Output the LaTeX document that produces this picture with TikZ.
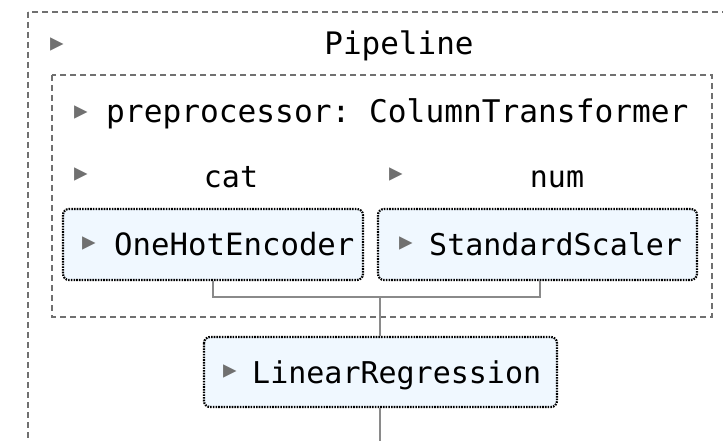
\documentclass[tikz,border=0pt]{standalone}
\usepackage{fontspec}
\setmonofont{DejaVu Sans Mono}
\newfontfamily\symfont{DejaVu Sans}
\definecolor{boxfill}{HTML}{F0F8FF}
\definecolor{dashgray}{HTML}{707070}
\definecolor{linegray}{HTML}{8A8A8A}
\definecolor{trigray}{HTML}{707070}
\begin{document}
\begin{tikzpicture}[x=1pt,y=-1pt,
  lbl/.style={font=\ttfamily\fontsize{30}{30}\selectfont, inner sep=0pt, anchor=base west, text=black},
  clbl/.style={font=\ttfamily\fontsize{30}{30}\selectfont, inner sep=0pt, anchor=base, text=black},
  tri/.style={font=\symfont\fontsize{27}{27}\selectfont, inner sep=0pt, text=trigray},
  dbox/.style={draw=dashgray, line width=1.5pt, dash pattern=on 6pt off 4pt},
  estbox/.style={draw=black, fill=boxfill, line width=2.2pt, dash pattern=on 1.6pt off 1.1pt, rounded corners=6pt},
  conn/.style={draw=linegray, line width=2pt}]
\useasboundingbox (0,0) rectangle (723,441);
\begin{scope}
\clip (0,0) rectangle (723,441);
\draw[dbox] (28,12) rectangle (760,480);
\end{scope}
\draw[dbox] (52,75) rectangle (712,317);
% estimator boxes
\draw[estbox] (63,209) rectangle (363,280);
\draw[estbox] (378,209) rectangle (697,280);
\draw[estbox] (204,337) rectangle (557,407);
% labels
\node[tri] (t0) at (57,45) {▸};
\node[clbl, font=\ttfamily\fontsize{31}{31}\selectfont] (pipe) at (399,55) {Pipeline};
\node[tri] (t1) at (81,113) {▸};
\node[lbl, font=\ttfamily\fontsize{31.2}{31}\selectfont] (prep) at (106,123) {preprocessor: ColumnTransformer};
\node[tri] (t2) at (81,175) {▸};
\node[clbl] (cat) at (231,187) {cat};
\node[tri] (t3) at (396,175) {▸};
\node[clbl] (num) at (557,187) {num};
\node[tri] (t4) at (89,244) {▸};
\node[lbl, font=\ttfamily\fontsize{30.7}{31}\selectfont] (ohe) at (114,255) {OneHotEncoder};
\node[tri] (t5) at (406,244) {▸};
\node[lbl] (ss) at (429,255) {StandardScaler};
\node[tri] (t6) at (230,372) {▸};
\node[lbl] (lr) at (252,383) {LinearRegression};
% connector coordinates
\coordinate (oheb) at (213,281);
\coordinate (ssb) at (540,281);
\coordinate (jl) at (213,297);
\coordinate (jr) at (540,297);
\coordinate (jm) at (380,297);
\coordinate (lrt) at (380,336);
\coordinate (lrb) at (380,408);
\coordinate (endc) at (380,441);
\draw[conn] (oheb) -- (jl) -- (jr) -- (ssb);
\draw[conn] (jm) -- (lrt);
\draw[conn] (lrb) -- (endc);
\end{tikzpicture}
\end{document}
